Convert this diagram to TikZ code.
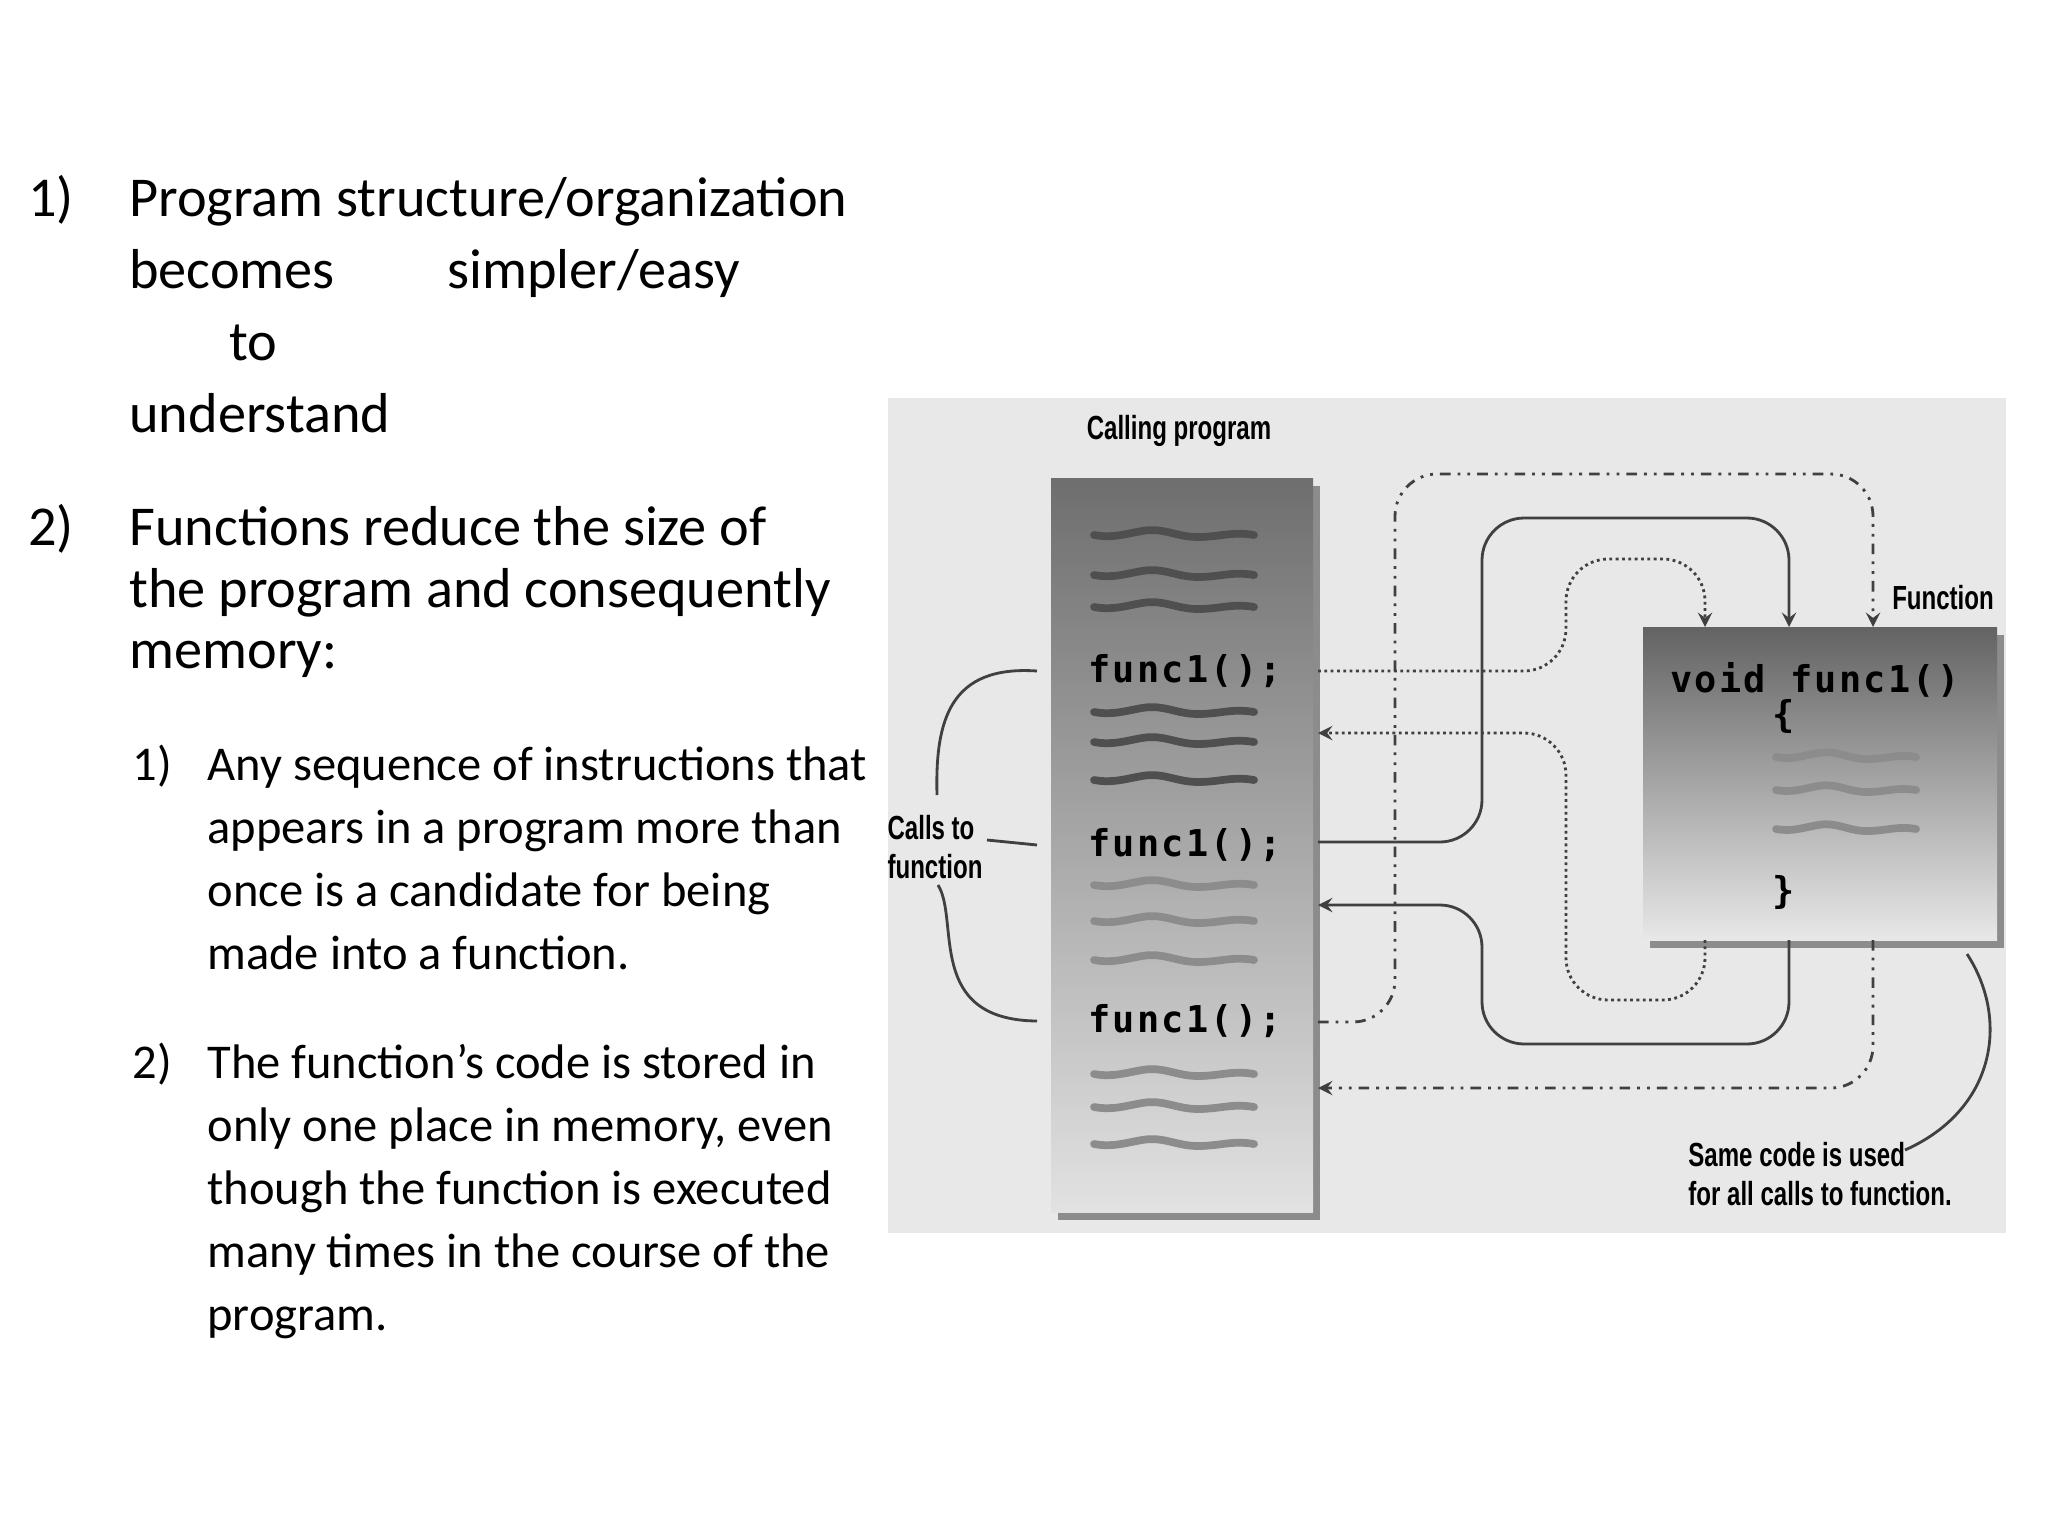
\documentclass[tikz,border=0pt]{standalone}
\usepackage{fontspec}
\setmainfont{Carlito}
\newfontfamily\codefont[LetterSpace=6]{DejaVu Sans Mono}
\newfontfamily\narrowfont[FakeStretch=0.72]{Liberation Sans}
\usepackage{xcolor}
\usepackage{tikz}
\usetikzlibrary{arrows}
\definecolor{panelgray}{HTML}{E8E8E8}
\definecolor{colltop}{HTML}{6E6E6E}
\definecolor{collbot}{HTML}{E2E2E2}
\definecolor{squigdark}{HTML}{4F4F4F}
\definecolor{squiglight}{HTML}{8C8C8C}
\tikzstyle{item} = [anchor=base west, font=\fontsize{16}{19}\selectfont]
\tikzstyle{subitem} = [anchor=base west, font=\fontsize{13.8}{16}\selectfont]
\tikzstyle{call} = [anchor=west, font=\codefont\bfseries\fontsize{10.5}{13}\selectfont]
\tikzstyle{label} = [font=\narrowfont\bfseries\fontsize{9.5}{11}\selectfont, align=left]
\tikzstyle{flow} = [thick, black!75, rounded corners=12, ->, >=stealth]
\newcommand{\squiggle}[4]{% x, y, width, colour
  \draw[#4, line width=2.2pt, line cap=round] (#1,#2)
    to[out=-10,in=190] ++(0.3*#3,-4) to[out=10,in=180] ++(0.35*#3,6)
    to[out=0,in=170] ++(0.35*#3,-2);}

\begin{document}
\begin{tikzpicture}[x=0.01cm, y=-0.01cm]
\useasboundingbox (0,0) rectangle (2048,1536);

% left hand text
\node (n1) [item] at (16,216) {1)};
\node (t1) [item] at (117,216) {Program structure/organization};
\node (t1b) [item] at (117,288) {becomes\hspace{2em}simpler/easy};
\node (t1c) [item] at (217,360) {to};
\node (t1d) [item] at (117,432) {understand};
\node (n2) [item] at (16,545) {2)};
\node (t2) [item] at (117,545) {Functions reduce the size of};
\node (t2b) [item] at (117,607) {the program and consequently};
\node (t2c) [item] at (117,668) {memory:};

\node (s1) [subitem] at (120,780) {1)};
\node (s1a) [subitem] at (195,780) {Any sequence of instructions that};
\node (s1b) [subitem] at (195,843) {appears in a program more than};
\node (s1c) [subitem] at (195,906) {once is a candidate for being};
\node (s1d) [subitem] at (195,969) {made into a function.};
\node (s2) [subitem] at (120,1078) {2)};
\node (s2a) [subitem] at (195,1078) {The function’s code is stored in};
\node (s2b) [subitem] at (195,1141) {only one place in memory, even};
\node (s2c) [subitem] at (195,1204) {though the function is executed};
\node (s2d) [subitem] at (195,1267) {many times in the course of the};
\node (s2e) [subitem] at (195,1330) {program.};

% diagram panel
\fill[panelgray] (888,398) rectangle (2006,1233);
\fill[black!45] (1058,486) rectangle (1320,1220);
\shade[top color=colltop, bottom color=collbot] (1051,478) rectangle (1313,1212);
\fill[black!45] (1650,635) rectangle (2004,948);
\shade[top color=colltop!90!black, bottom color=collbot!80!white] (1643,627) rectangle (1997,940);

\node (calling) [label] at (1179,431) {Calling program};
\node (function) [label] at (1943,598) {Function};

\foreach \y/\c in {535/squigdark, 575/squigdark, 607/squigdark,
  712/squigdark, 742/squigdark, 780/squigdark,
  885/squiglight, 921/squiglight, 960/squiglight,
  1074/squiglight, 1107/squiglight, 1144/squiglight}
  \squiggle{1094}{\y}{160}{\c};
\foreach \y in {757, 790, 829}
  \squiggle{1776}{\y}{140}{squiglight};

\node (callA) [call] at (1076,671) {func1();};
\node (callB) [call] at (1076,845) {func1();};
\node (callC) [call] at (1076,1021) {func1();};
\node (head) [call] at (1658,680) {void func1()};
\node (open) [call] at (1760,716) {\{};
\node (close) [call] at (1760,892) {\}};

% calls and returns
\coordinate (inA) at (1705,627);
\coordinate (inB) at (1789,627);
\coordinate (inC) at (1873,627);
\draw[flow, densely dotted] (1318,671) -- (1566,671) -- (1566,559) -- (1705,559) -- (inA);
\draw[flow, densely dotted] (1705,940) -- (1705,1000) -- (1566,1000) -- (1566,733) -- (1318,733);
\draw[flow] (1318,842) -- (1482,842) -- (1482,518) -- (1789,518) -- (inB);
\draw[flow] (1789,940) -- (1789,1044) -- (1482,1044) -- (1482,905) -- (1318,905);
\draw[flow, dash dot dot] (1318,1022) -- (1395,1022) -- (1395,474) -- (1873,474) -- (inC);
\draw[flow, dash dot dot] (1873,940) -- (1873,1088) -- (1318,1088);

% braces and notes
\node (calls) [label] at (935,847) {Calls to\\function};
\draw[thick, black!75] (1037,671) .. controls (950,665) and (935,720) .. (937,795);
\draw[thick, black!75] (987,840) -- (1037,845);
\draw[thick, black!75] (938,885) .. controls (960,920) and (925,1020) .. (1037,1021);
\node (same) [label, anchor=west] at (1676,1174) {Same code is used\\for all calls to function.};
\draw[thick, black!75] (1905,1150) .. controls (1995,1110) and (2010,1020) .. (1967,954);
\end{tikzpicture}
\end{document}
